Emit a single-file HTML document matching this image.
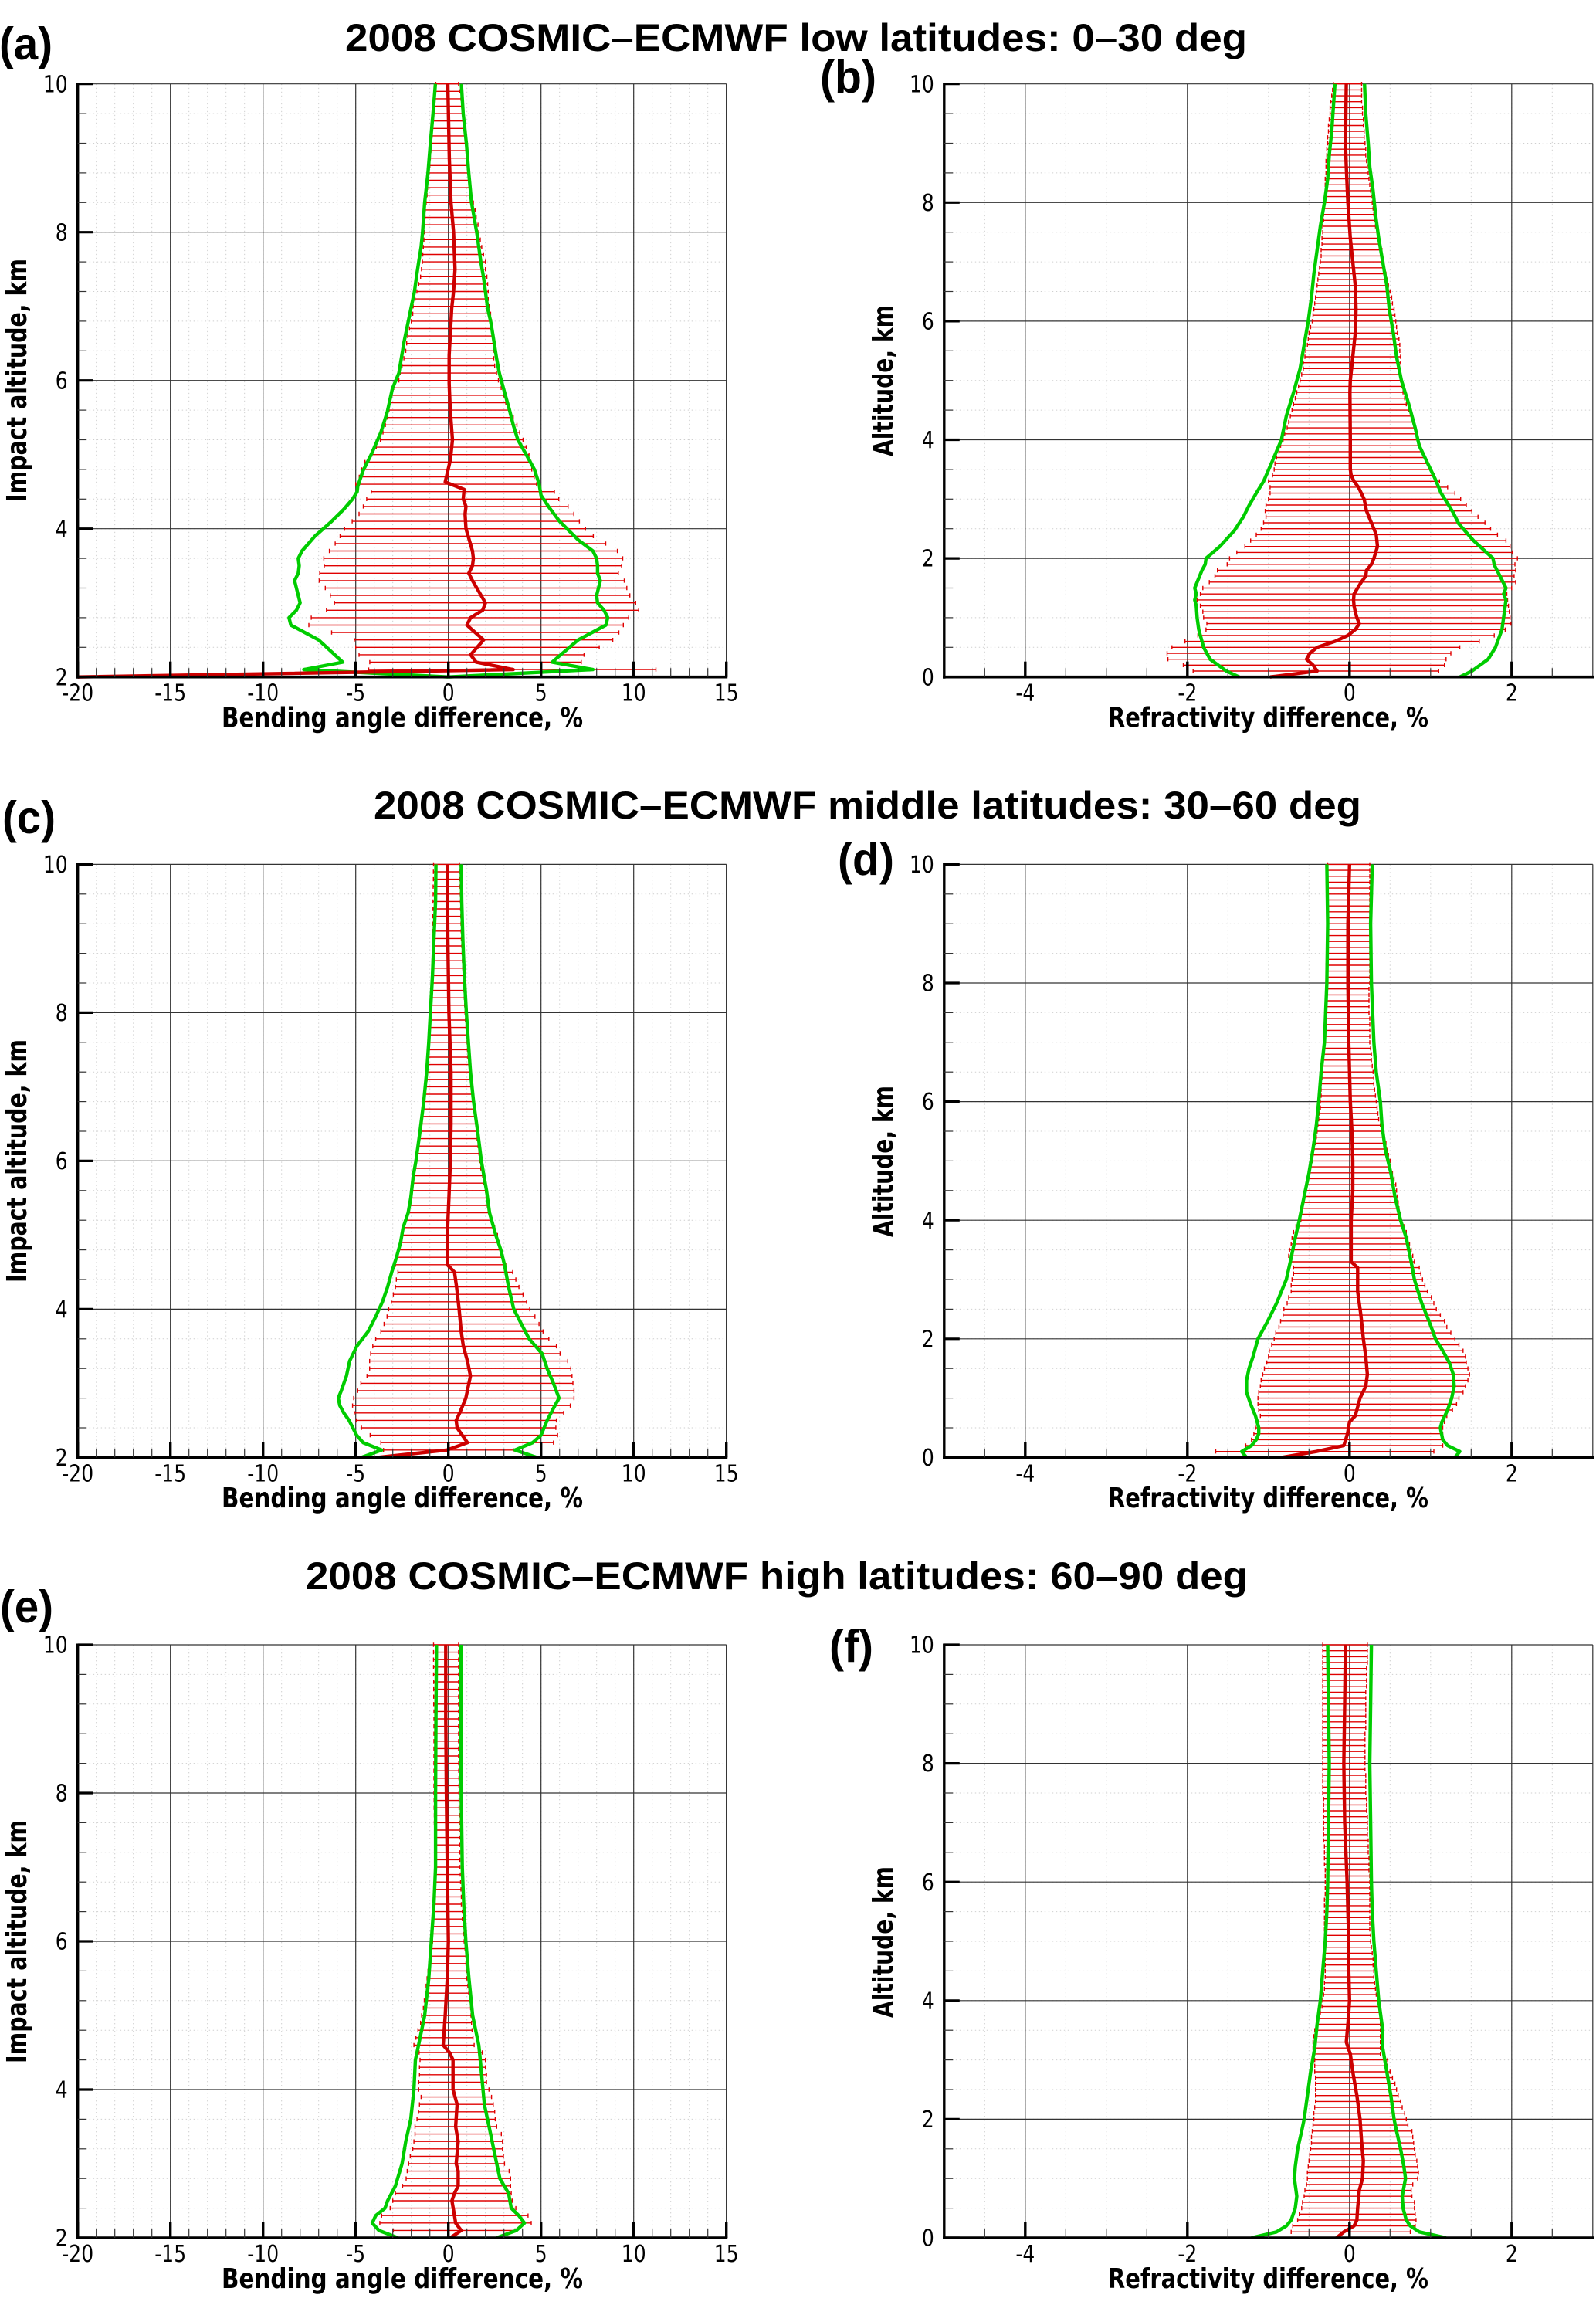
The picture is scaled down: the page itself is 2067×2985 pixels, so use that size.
<!DOCTYPE html>
<html lang="en">
<head>
<meta charset="utf-8">
<title>2008 COSMIC–ECMWF differences</title>
<style>
html,body{margin:0;padding:0;background:#fff;}
svg{display:block;}
.title{font-family:"Liberation Sans",sans-serif;font-weight:700;font-size:50px;fill:#000;}
.letter{font-family:"Liberation Sans",sans-serif;font-weight:700;font-size:59px;fill:#000;}
.axt{font-family:"DejaVu Sans",sans-serif;font-weight:700;font-size:36px;fill:#000;}
.tick{font-family:"DejaVu Sans",sans-serif;font-size:30.5px;fill:#000;}
</style>
</head>
<body>
<svg id="chart" xmlns="http://www.w3.org/2000/svg" width="2067" height="2985" viewBox="0 0 2067 2985">
<rect width="2067" height="2985" fill="#fff"/>
<text class="title" x="447" y="66" textLength="1168" lengthAdjust="spacingAndGlyphs">2008 COSMIC–ECMWF low latitudes: 0–30 deg</text>
<text class="title" x="484" y="1060" textLength="1279" lengthAdjust="spacingAndGlyphs">2008 COSMIC–ECMWF middle latitudes: 30–60 deg</text>
<text class="title" x="396" y="2058" textLength="1220" lengthAdjust="spacingAndGlyphs">2008 COSMIC–ECMWF high latitudes: 60–90 deg</text>
<text class="letter" x="-1" y="77" textLength="69" lengthAdjust="spacingAndGlyphs">(a)</text>
<text class="letter" x="1062" y="120" textLength="73" lengthAdjust="spacingAndGlyphs">(b)</text>
<text class="letter" x="3" y="1079" textLength="69" lengthAdjust="spacingAndGlyphs">(c)</text>
<text class="letter" x="1085" y="1133" textLength="73" lengthAdjust="spacingAndGlyphs">(d)</text>
<text class="letter" x="0" y="2101" textLength="69" lengthAdjust="spacingAndGlyphs">(e)</text>
<text class="letter" x="1074" y="2152" textLength="57" lengthAdjust="spacingAndGlyphs">(f)</text>
<text class="axt" x="287" y="941.5" textLength="468" lengthAdjust="spacingAndGlyphs">Bending angle difference, %</text>
<text class="axt" x="1435" y="941.5" textLength="415" lengthAdjust="spacingAndGlyphs">Refractivity difference, %</text>
<text class="axt" x="287" y="1952" textLength="468" lengthAdjust="spacingAndGlyphs">Bending angle difference, %</text>
<text class="axt" x="1435" y="1952" textLength="415" lengthAdjust="spacingAndGlyphs">Refractivity difference, %</text>
<text class="axt" x="287" y="2963" textLength="468" lengthAdjust="spacingAndGlyphs">Bending angle difference, %</text>
<text class="axt" x="1435" y="2963" textLength="415" lengthAdjust="spacingAndGlyphs">Refractivity difference, %</text>
<text class="axt" transform="translate(34,650) rotate(-90)" textLength="315" lengthAdjust="spacingAndGlyphs">Impact altitude, km</text>
<text class="axt" transform="translate(1156,591) rotate(-90)" textLength="196" lengthAdjust="spacingAndGlyphs">Altitude, km</text>
<text class="axt" transform="translate(34,1661) rotate(-90)" textLength="315" lengthAdjust="spacingAndGlyphs">Impact altitude, km</text>
<text class="axt" transform="translate(1156,1602) rotate(-90)" textLength="196" lengthAdjust="spacingAndGlyphs">Altitude, km</text>
<text class="axt" transform="translate(34,2672) rotate(-90)" textLength="315" lengthAdjust="spacingAndGlyphs">Impact altitude, km</text>
<text class="axt" transform="translate(1156,2613) rotate(-90)" textLength="196" lengthAdjust="spacingAndGlyphs">Altitude, km</text>
</svg>
<script>
// Tick labels
const bendingXTicks = [-20,-15,-10,-5,0,5,10,15];
const refractivityXTicks = [-4,-2,0,2];
const bendingYTicks = [2,4,6,8,10];
const refractivityYTicks = [0,2,4,6,8,10];

// Panel (a): bars start at 2.1 km, one every 0.1 km
const aBarLow = [-4.3,-4.24,-4.82,-5.0,-5.08,-6.3,-7.53,-7.4,-6.58,
-6.15,-6.37,-6.64,-6.97,-6.94,-6.7,-6.72,-6.42,-6.11,-5.84,
-5.6,-5.19,-4.82,-4.59,-4.41,-4.16,-5.0,-4.81,-4.67,-4.5,
-4.13,-3.89,-3.67,-3.53,-3.4,-3.3,-3.2,-3.1,-3.05,-2.95,
-2.67,-2.6,-2.5,-2.4,-2.3,-2.25,-2.2,-2.1,-2.0,-1.92,
-1.9,-1.8,-1.7,-1.6,-1.5,-1.45,-1.4,-1.38,-1.35,-1.32,
-1.3,-1.28,-1.26,-1.25,-1.2,-1.15,-1.12,-1.08,-1.04,-1.0,
-.97,-.94,-.9,-.88,-.85,-.82,-.79,-.76,-.73,-.71,-.68];
const aBarHigh = [11.2,7.17,7.32,8.14,8.87,9.2,9.44,9.73,10.27,
10.11,9.79,9.63,9.49,9.17,9.35,9.41,9.12,8.49,7.82,
7.4,7.07,6.77,6.46,5.96,5.72,4.76,4.63,4.5,4.45,
4.35,4.2,4.03,3.85,3.7,3.5,3.25,3.1,3.0,2.85,
2.7,2.6,2.5,2.45,2.42,2.42,2.4,2.37,2.33,2.28,
2.2,2.15,2.15,2.12,2.08,2.0,2.0,1.9,1.8,1.72,
1.65,1.6,1.5,1.44,1.35,1.25,1.2,1.15,1.1,1.05,
1.0,.96,.92,.88,.84,.8,.76,.72,.68,.62,.55];
const aMeanAlt = [2,2.1,2.2,2.3,2.5,2.7,2.8,2.9,3,3.3,3.4,3.5,3.6,3.7,4,4.2,4.3,4.4,4.53,4.63,4.93,5.2,5.6,5.96,6.34,6.97,7.2,7.5,8,8.4,9,10];
const aMean = [-20,3.5,1.5,1.2,1.9,1,1.2,1.85,2,1.3,1.1,1.3,1.35,1.3,.95,.9,.95,.8,.85,-.17,.11,.22,.1,.04,.04,.18,.28,.36,.28,.14,.05,-.03];
const aGreenLowAlt = [2,2.1,2.2,2.5,2.7,2.8,2.9,3,3.1,3.3,3.4,3.5,3.6,3.7,3.9,4.1,4.26,4.4,4.5,4.57,4.78,5.02,5.3,5.58,5.89,6.1,6.52,6.97,7.2,7.4,7.6,7.8,8,8.4,8.8,9.2,9.6,10];
const aGreenLow = [0,-7.8,-5.7,-7,-8.5,-8.6,-8.2,-8,-8.1,-8.3,-8.1,-8.05,-8.1,-7.9,-7.2,-6.3,-5.65,-5.17,-4.92,-4.89,-4.61,-4.13,-3.64,-3.29,-3.02,-2.67,-2.39,-2.02,-1.83,-1.72,-1.6,-1.47,-1.39,-1.28,-1.1,-.97,-.83,-.7];
const aGreenHighAlt = [2,2.1,2.2,2.5,2.7,2.8,2.9,3,3.1,3.3,3.4,3.5,3.6,3.7,3.85,4.1,4.3,4.45,4.6,4.8,5,5.2,5.4,5.6,5.85,6.1,6.3,6.62,6.8,6.97,7.2,7.4,7.6,7.8,8,8.4,8.8,9.2,9.6,10];
const aGreenHigh = [0,7.8,5.6,7,8.5,8.6,8.4,8.05,8,8.2,8.05,8.05,8,7.8,7,6,5.4,5,4.9,4.64,4.2,3.75,3.5,3.3,3.02,2.75,2.6,2.4,2.28,2.12,2,1.89,1.75,1.64,1.53,1.25,1.1,.97,.8,.7];

// Panel (b): bars start at 0.1 km, one every 0.1 km
const bBarLow = [-1.93,-2.05,-2.24,-2.25,-2.19,-2.03,-1.87,-1.77,-1.76,
-1.8,-1.81,-1.84,-1.88,-1.84,-1.81,-1.73,-1.66,-1.63,-1.51,
-1.48,-1.39,-1.29,-1.22,-1.15,-1.09,-1.06,-1.03,-1.04,-1.03,
-1,-.98,-.98,-1,-.95,-.93,-.92,-.9,-.87,-.85,
-.82,-.8,-.77,-.75,-.73,-.71,-.69,-.67,-.65,-.63,
-.61,-.59,-.57,-.57,-.55,-.54,-.52,-.51,-.5,-.48,
-.46,-.45,-.44,-.43,-.42,-.41,-.4,-.39,-.38,-.37,
-.36,-.35,-.35,-.34,-.34,-.33,-.33,-.32,-.32,-.32,
-.31,-.31,-.3,-.3,-.3,-.29,-.29,-.29,-.28,-.28,
-.27,-.27,-.26,-.26,-.25,-.24,-.24,-.23,-.22,-.21,-.2];
const bBarHigh = [1.1,1.17,1.19,1.25,1.36,1.6,1.785,1.92,1.99,
1.98,1.97,1.96,1.95,1.94,2,2.05,2.03,2.05,2.04,
2.07,2.01,1.98,1.93,1.825,1.74,1.67,1.585,1.51,1.44,
1.37,1.3,1.21,1.11,1.05,1,.96,.93,.9,.87,
.84,.82,.8,.78,.76,.73,.7,.68,.66,.64,
.63,.62,.62,.63,.63,.62,.62,.61,.59,.58,
.57,.56,.55,.53,.52,.5,.48,.47,.45,.43,
.42,.4,.4,.38,.36,.34,.32,.31,.3,.29,
.28,.27,.26,.25,.24,.23,.22,.21,.2,.2,
.19,.18,.18,.17,.17,.16,.16,.15,.15,.15,.15];
const bMeanAlt = [0,.1,.2,.3,.4,.5,.6,.7,.8,.9,1,1.1,1.2,1.3,1.4,1.5,1.6,1.7,1.8,1.9,2,2.2,2.4,2.6,2.8,3,3.2,3.3,3.4,3.5,4,4.8,5,5.4,5.8,6.2,6.6,7,7.4,8,8.6,9,10];
const bMean = [-.98,-.4,-.45,-.53,-.49,-.4,-.18,-.02,.07,.12,.09,.07,.055,.05,.055,.1,.145,.2,.21,.27,.3,.345,.33,.27,.21,.18,.11,.055,.02,.01,.01,.005,.01,.04,.07,.08,.07,.04,.01,-.02,-.04,-.05,-.04];
const bGreenLowAlt = [0,.1,.3,.5,.6,.8,1,1.2,1.3,1.4,1.5,1.8,1.9,2,2.2,2.47,2.7,2.89,3.1,3.3,3.6,4,4.4,4.8,5.2,5.6,6,6.4,6.8,7.2,7.6,8,8.4,8.8,9.2,9.6,10];
const bGreenLow = [-1.36,-1.52,-1.72,-1.8,-1.82,-1.86,-1.88,-1.89,-1.91,-1.89,-1.91,-1.82,-1.78,-1.77,-1.6,-1.42,-1.31,-1.24,-1.15,-1.06,-.965,-.84,-.78,-.69,-.61,-.56,-.51,-.47,-.44,-.4,-.36,-.31,-.27,-.25,-.22,-.2,-.18];
const bGreenHighAlt = [0,.1,.3,.5,.8,1,1.3,1.4,1.5,1.69,1.89,2,2.3,2.58,2.78,3.1,3.34,3.6,3.9,4.2,4.6,5,5.4,5.8,6.2,6.6,7,7.4,7.8,8.2,8.6,9,9.5,10];
const bGreenHigh = [1.36,1.51,1.71,1.8,1.88,1.9,1.93,1.9,1.93,1.86,1.785,1.77,1.53,1.35,1.275,1.13,1.056,.965,.86,.81,.73,.64,.58,.54,.49,.46,.41,.36,.32,.29,.25,.23,.2,.185];

// Panel (c): bars start at 2.1 km
const cBarLow = [-3.5,-3.64,-4.22,-4.69,-4.97,-5.08,-5.17,-5.11,-4.89,
-4.72,-4.39,-4.25,-4.25,-4.19,-4.08,-3.92,-3.64,-3.47,-3.31,
-3.22,-3.08,-2.97,-2.86,-2.81,-2.72,-2.85,-2.8,-2.7,-2.6,
-2.5,-2.4,-2.3,-2.2,-2.1,-2,-1.95,-1.9,-1.85,-1.8,
-1.75,-1.7,-1.65,-1.6,-1.5,-1.45,-1.4,-1.35,-1.3,-1.25,
-1.2,-1.15,-1.15,-1.1,-1.1,-1.08,-1.05,-1.02,-1,-.97,
-.95,-.94,-.93,-.92,-.91,-.9,-.89,-.88,-.87,-.86,
-.85,-.85,-.84,-.84,-.83,-.83,-.82,-.82,-.81,-.81,-.8];
const cBarHigh = [3.5,5.67,5.89,5.8,5.83,6.22,6.58,6.78,6.78,
6.72,6.67,6.61,6.44,6.03,5.83,5.42,5.11,4.89,4.67,
4.39,4.22,4.03,3.81,3.64,3.47,3.1,2.95,2.85,2.75,
2.65,2.5,2.35,2.2,2.1,2.05,2,1.9,1.85,1.75,
1.7,1.65,1.6,1.55,1.58,1.55,1.45,1.4,1.35,1.3,
1.25,1.2,1.15,1.1,1.05,1.03,1.01,.98,.95,.92,
.9,.88,.86,.84,.82,.8,.78,.76,.74,.72,
.7,.69,.68,.67,.66,.65,.64,.63,.62,.61,.6];
const cMeanAlt = [2,2.1,2.2,2.3,2.4,2.5,2.6,2.8,3,3.1,3.3,3.5,3.7,4,4.3,4.5,4.6,5,5.5,6,6.5,7.2,8,9,10];
const cMean = [-3.83,-.08,1.03,.75,.47,.42,.61,.94,1.11,1.19,1.03,.81,.69,.58,.44,.33,-.06,-.06,.03,.11,.14,.14,.03,-.03,-.06];
const cGreenLowAlt = [2,2.1,2.2,2.3,2.5,2.6,2.7,2.8,2.9,3.1,3.3,3.5,3.7,3.9,4.1,4.3,4.5,4.7,4.9,5.1,5.3,5.5,5.8,6,6.4,6.8,7.2,7.6,8,8.5,9,9.5,10];
const cGreenLow = [-4.7,-3.6,-4.6,-4.95,-5.36,-5.64,-5.86,-5.94,-5.78,-5.5,-5.33,-4.94,-4.33,-3.92,-3.56,-3.28,-3.06,-2.8,-2.58,-2.44,-2.17,-2.03,-1.89,-1.75,-1.53,-1.33,-1.17,-1.06,-.97,-.86,-.78,-.69,-.67];
const cGreenHighAlt = [2,2.1,2.2,2.3,2.5,2.7,2.8,3,3.2,3.4,3.6,3.8,4,4.3,4.6,4.8,5,5.3,5.6,6,6.4,6.8,7.2,7.6,8,8.5,9,9.5,10];
const cGreenHigh = [4.78,3.6,4.55,5,5.33,5.75,5.97,5.67,5.33,5.06,4.36,3.94,3.53,3.25,3.03,2.83,2.56,2.22,2.06,1.78,1.58,1.36,1.19,1.08,.97,.86,.78,.72,.69];

// Panel (d): bars start at 0.1 km
const dBarLow = [-1.65,-1.28,-1.21,-1.18,-1.16,-1.12,-1.1,-1.12,-1.13,
-1.13,-1.12,-1.1,-1.09,-1.07,-1.05,-1.02,-1,-.99,-.96,
-.93,-.91,-.87,-.85,-.82,-.81,-.77,-.75,-.72,-.72,
-.71,-.69,-.69,-.73,-.75,-.74,-.72,-.71,-.69,-.66,
-.6,-.6,-.58,-.57,-.56,-.55,-.53,-.51,-.5,-.48,
-.46,-.45,-.44,-.42,-.41,-.4,-.39,-.38,-.37,-.36,
-.36,-.35,-.35,-.35,-.34,-.34,-.33,-.33,-.32,-.32,
-.31,-.31,-.31,-.3,-.3,-.3,-.3,-.3,-.29,-.29,
-.29,-.29,-.29,-.29,-.28,-.28,-.28,-.28,-.28,-.28,
-.28,-.28,-.28,-.27,-.27,-.27,-.27,-.27,-.27,-.27,-.27];
const dBarHigh = [1.04,1.15,1.15,1.15,1.15,1.17,1.2,1.27,1.32,
1.35,1.4,1.43,1.46,1.48,1.46,1.44,1.43,1.4,1.35,
1.3,1.25,1.2,1.17,1.12,1.07,1.04,1.01,.96,.93,
.9,.88,.86,.8,.78,.76,.74,.72,.7,.67,
.64,.63,.61,.6,.59,.58,.57,.55,.53,.51,
.5,.48,.47,.45,.42,.4,.38,.36,.35,.34,
.33,.32,.31,.3,.3,.29,.28,.27,.27,.26,
.25,.25,.25,.25,.25,.24,.24,.24,.24,.24,
.25,.25,.25,.25,.25,.25,.25,.25,.25,.25,
.25,.25,.25,.25,.25,.25,.25,.25,.25,.25,.25];
const dMeanAlt = [0,.1,.2,.4,.6,.7,1,1.2,1.4,1.7,2,2.4,2.8,3.1,3.2,3.3,3.6,4,4.5,5,5.5,6,7,8,9,10];
const dMean = [-.84,-.41,-.07,-.025,0,.07,.13,.2,.22,.2,.17,.14,.1,.1,.1,.02,.02,.02,.04,.04,.03,.01,-.01,-.02,-.02,0];
const dGreenLowAlt = [0,.1,.2,.3,.4,.5,.7,.9,1.1,1.3,1.5,1.7,2,2.3,2.6,3,3.3,3.7,4,4.4,4.8,5.2,5.6,6,6.5,7,8,9,10];
const dGreenLow = [-1.27,-1.33,-1.21,-1.15,-1.12,-1.12,-1.16,-1.22,-1.27,-1.27,-1.24,-1.19,-1.13,-1.01,-.9,-.78,-.73,-.67,-.62,-.56,-.5,-.45,-.41,-.38,-.35,-.31,-.28,-.27,-.28];
const dGreenHighAlt = [0,.1,.2,.3,.5,.6,.8,1,1.2,1.4,1.6,1.8,2,2.3,2.6,3,3.3,3.7,4,4.4,4.8,5.2,5.6,6,6.5,7,8,9,10];
const dGreenHigh = [1.3,1.36,1.21,1.15,1.12,1.14,1.21,1.26,1.29,1.28,1.23,1.15,1.06,.98,.89,.8,.76,.7,.63,.56,.51,.44,.4,.38,.33,.3,.27,.26,.28];

// Panel (e): bars start at 2.1 km
const eBarLow = [-2.97,-3.7,-3.6,-3.14,-3,-2.86,-2.47,-2.28,-2.22,
-2.14,-2.06,-1.92,-1.86,-1.8,-1.8,-1.69,-1.61,-1.56,-1.47,
-1.6,-1.6,-1.56,-1.56,-1.53,-1.58,-1.86,-1.75,-1.64,-1.5,
-1.44,-1.35,-1.3,-1.25,-1.2,-1.15,-1.1,-1.05,-.95,-.9,
-.85,-.85,-.85,-.8,-.8,-.8,-.78,-.78,-.77,-.76,
-.75,-.75,-.75,-.75,-.75,-.75,-.76,-.76,-.77,-.77,
-.78,-.78,-.78,-.78,-.78,-.78,-.78,-.78,-.78,-.78,
-.78,-.78,-.79,-.79,-.79,-.79,-.8,-.8,-.8,-.8,-.8];
const eBarHigh = [3.6,4.47,4.3,3.64,3.44,3.39,3.36,3.36,3.28,
3.03,2.97,2.92,2.92,2.86,2.61,2.53,2.5,2.42,2.33,
2.19,2.06,2.06,2,2,1.83,1.39,1.33,1.28,1.25,
1.22,1.2,1.15,1.1,1.05,1,1,.95,.95,.9,
.85,.8,.8,.75,.75,.7,.7,.68,.66,.64,
.62,.62,.62,.61,.61,.6,.6,.59,.58,.58,
.57,.57,.57,.56,.56,.55,.55,.55,.55,.55,
.55,.55,.55,.55,.55,.55,.55,.55,.55,.55,.55];
const eMeanAlt = [2,2.1,2.2,2.3,2.5,2.6,2.7,2.9,3,3.3,3.5,3.8,4,4.4,4.5,4.6,5,5.5,6,7,8,9,10];
const eMean = [.11,.69,.39,.33,.19,.33,.53,.53,.42,.53,.39,.47,.25,.25,.06,-.28,-.17,-.06,0,-.06,-.11,-.14,-.14];
const eGreenLowAlt = [2,2.1,2.2,2.3,2.4,2.5,2.7,3,3.3,3.6,4,4.4,4.6,5,5.5,6,6.5,7,8,9,10];
const eGreenLow = [-2.72,-3.75,-4.11,-3.92,-3.42,-3.28,-2.86,-2.5,-2.3,-2.03,-1.86,-1.78,-1.61,-1.28,-1.06,-.92,-.78,-.69,-.69,-.67,-.64];
const eGreenHighAlt = [2,2.1,2.2,2.3,2.4,2.6,2.8,3,3.4,3.8,4.4,4.6,5,5.5,6,6.5,7,8,9,10];
const eGreenHigh = [2.6,3.67,4.11,3.8,3.39,3.25,2.78,2.61,2.28,1.94,1.72,1.64,1.31,1.11,.94,.83,.75,.69,.67,.67];

// Panel (f): bars start at 0.1 km
const fBarLow = [-.72,-.7,-.64,-.62,-.59,-.58,-.56,-.55,-.53,
-.52,-.52,-.51,-.5,-.49,-.48,-.47,-.47,-.46,-.45,
-.44,-.44,-.43,-.42,-.42,-.42,-.42,-.42,-.43,-.43,
-.43,-.43,-.45,-.45,-.44,-.43,-.4,-.38,-.36,-.34,
-.33,-.32,-.31,-.31,-.3,-.3,-.3,-.3,-.3,-.3,
-.3,-.31,-.31,-.31,-.31,-.31,-.31,-.31,-.3,-.3,
-.3,-.3,-.3,-.31,-.31,-.31,-.31,-.32,-.32,-.32,
-.32,-.32,-.32,-.32,-.32,-.33,-.33,-.33,-.33,-.33,
-.33,-.33,-.33,-.33,-.33,-.33,-.33,-.33,-.33,-.33,
-.33,-.33,-.33,-.33,-.33,-.33,-.33,-.33,-.33,-.33,-.33];
const fBarHigh = [.75,.81,.82,.81,.8,.8,.77,.76,.78,
.84,.85,.84,.83,.81,.8,.79,.78,.77,.72,
.7,.68,.65,.63,.6,.58,.56,.53,.5,.47,
.47,.38,.38,.38,.38,.38,.38,.38,.37,.37,
.35,.33,.32,.31,.3,.3,.29,.29,.28,.27,
.26,.26,.25,.25,.25,.25,.25,.25,.25,.25,
.25,.25,.24,.24,.24,.23,.23,.23,.22,.22,
.22,.22,.21,.21,.21,.2,.2,.2,.2,.19,
.19,.19,.19,.19,.19,.19,.2,.2,.2,.2,
.2,.2,.2,.21,.21,.21,.21,.22,.22,.22,.22];
const fMeanAlt = [0,.1,.2,.3,.5,.8,1,1.3,1.6,2,2.4,2.8,3.1,3.3,3.6,4,4.5,5,5.5,6,7,8,9,10];
const fMean = [-.16,-.07,.055,.09,.1,.12,.16,.17,.15,.13,.09,.04,.01,-.04,-.02,0,-.01,-.01,-.02,-.03,-.06,-.07,-.06,-.05];
const fGreenLowAlt = [0,.1,.2,.3,.5,.7,1,1.2,1.5,1.8,2,2.4,2.8,3.2,3.6,4,4.5,5,5.5,6,7,8,9,10];
const fGreenLow = [-1.21,-.9,-.78,-.72,-.67,-.65,-.68,-.67,-.64,-.59,-.56,-.52,-.48,-.43,-.4,-.36,-.33,-.3,-.28,-.27,-.26,-.25,-.26,-.27];
const fGreenHighAlt = [0,.1,.2,.3,.5,.7,1,1.2,1.5,1.8,2,2.4,2.8,3.2,3.6,4,4.5,5,5.5,6,7,8,9,10];
const fGreenHigh = [1.19,.86,.75,.7,.66,.65,.69,.67,.63,.58,.55,.51,.46,.41,.4,.36,.33,.3,.28,.27,.26,.25,.26,.27];

const NS = 'http://www.w3.org/2000/svg';
const root = document.getElementById('chart');
const PW = 840, PH = 768;
const panels = [
 {id:'a',kind:'b',left:100.7,top:108.7,barLow:aBarLow,barHigh:aBarHigh,meanAlt:aMeanAlt,mean:aMean,gla:aGreenLowAlt,gl:aGreenLow,gha:aGreenHighAlt,gh:aGreenHigh},
 {id:'b',kind:'r',left:1222.8,top:108.7,barLow:bBarLow,barHigh:bBarHigh,meanAlt:bMeanAlt,mean:bMean,gla:bGreenLowAlt,gl:bGreenLow,gha:bGreenHighAlt,gh:bGreenHigh},
 {id:'c',kind:'b',left:100.7,top:1119.4,barLow:cBarLow,barHigh:cBarHigh,meanAlt:cMeanAlt,mean:cMean,gla:cGreenLowAlt,gl:cGreenLow,gha:cGreenHighAlt,gh:cGreenHigh},
 {id:'d',kind:'r',left:1222.8,top:1119.4,barLow:dBarLow,barHigh:dBarHigh,meanAlt:dMeanAlt,mean:dMean,gla:dGreenLowAlt,gl:dGreenLow,gha:dGreenHighAlt,gh:dGreenHigh},
 {id:'e',kind:'b',left:100.7,top:2130,barLow:eBarLow,barHigh:eBarHigh,meanAlt:eMeanAlt,mean:eMean,gla:eGreenLowAlt,gl:eGreenLow,gha:eGreenHighAlt,gh:eGreenHigh},
 {id:'f',kind:'r',left:1222.8,top:2130,barLow:fBarLow,barHigh:fBarHigh,meanAlt:fMeanAlt,mean:fMean,gla:fGreenLowAlt,gl:fGreenLow,gha:fGreenHighAlt,gh:fGreenHigh}
];

function mk(parent, tag, attrs) {
  const el = document.createElementNS(NS, tag);
  for (const k in attrs) el.setAttribute(k, attrs[k]);
  parent.appendChild(el);
  return el;
}
function tickWidth(s) {
  let w = 0;
  for (const c of s) w += (c === '-' ? 0.361 : 0.636);
  return w * 30.5 * 0.82;
}
function polyPoints(alts, vals, sx, sy) {
  return vals.map((v, i) => sx(v).toFixed(1) + ',' + sy(alts[i]).toFixed(1)).join(' ');
}

panels.forEach(p => {
  const isB = p.kind === 'b';
  const xMin = isB ? -20 : -5, xMax = isB ? 15 : 3;
  const yMin = isB ? 2 : 0, yMax = 10;
  const xMinorStep = isB ? 1 : 0.5;
  const yMinorStep = isB ? 0.4 : 0.5;
  const sx = v => p.left + (v - xMin) * PW / (xMax - xMin);
  const sy = a => p.top + PH - (a - yMin) * PH / (yMax - yMin);
  const bottom = p.top + PH, right = p.left + PW;
  const xTicks = isB ? bendingXTicks : refractivityXTicks;
  const yTicks = isB ? bendingYTicks : refractivityYTicks;

  const g = mk(root, 'g', {});
  
  

  // minor dotted grid
  const minorGrid = mk(g, 'g', {stroke:'#cfcfcf','stroke-width':1,'stroke-dasharray':'1.4 3.6',fill:'none'});
  
  
  const nx = Math.round((xMax - xMin) / xMinorStep);
  for (let i = 1; i < nx; i++) {
    const v = xMin + i * xMinorStep;
    mk(minorGrid, 'line', {x1:sx(v),x2:sx(v),y1:p.top,y2:bottom});
  }
  const ny = Math.round((yMax - yMin) / yMinorStep);
  for (let i = 1; i < ny; i++) {
    const a = yMin + i * yMinorStep;
    mk(minorGrid, 'line', {x1:p.left,x2:right,y1:sy(a),y2:sy(a)});
  }

  // major grid
  const majorGrid = mk(g, 'g', {stroke:'#333','stroke-width':1.2});
  
  
  xTicks.forEach(v => { mk(majorGrid, 'line', {x1:sx(v),x2:sx(v),y1:p.top,y2:bottom}); });
  yTicks.forEach(a => { mk(majorGrid, 'line', {x1:p.left,x2:right,y1:sy(a),y2:sy(a)}); });
  mk(majorGrid, 'line', {x1:right,x2:right,y1:p.top,y2:bottom});

  // error bars
  const barStart = yMin + 0.1;
  const bars = mk(g, 'g', {stroke:'#e00000','stroke-width':1.4,fill:'none'});
  
  
  p.barLow.forEach((lo, i) => {
    const a = barStart + i * 0.1;
    const y = sy(a), x0 = sx(lo), x1 = sx(p.barHigh[i]);
    const bar = mk(bars, 'path', {d:'M'+x0.toFixed(1)+' '+y.toFixed(1)+'H'+x1.toFixed(1)+'M'+x0.toFixed(1)+' '+(y-2.7).toFixed(1)+'V'+(y+2.7).toFixed(1)+'M'+x1.toFixed(1)+' '+(y-2.7).toFixed(1)+'V'+(y+2.7).toFixed(1)});
    
    
  });

  // green curves
  const gl = mk(g, 'polyline', {points:polyPoints(p.gla, p.gl, sx, sy),fill:'none',stroke:'#00cc00','stroke-width':4.4,'stroke-linejoin':'round'});
  
  
  const gh = mk(g, 'polyline', {points:polyPoints(p.gha, p.gh, sx, sy),fill:'none',stroke:'#00cc00','stroke-width':4.4,'stroke-linejoin':'round'});
  
  

  // mean curve
  const mean = mk(g, 'polyline', {points:polyPoints(p.meanAlt, p.mean, sx, sy),fill:'none',stroke:'#cc0000','stroke-width':4.4,'stroke-linejoin':'round'});
  
  

  // axes and ticks
  const axes = mk(g, 'g', {stroke:'#000'});
  
  
  mk(axes, 'line', {x1:p.left,x2:p.left,y1:p.top-1.5,y2:bottom+2,'stroke-width':3.4});
  mk(axes, 'line', {x1:p.left-1.7,x2:right+1.5,y1:bottom,y2:bottom,'stroke-width':3.6});
  for (let i = 1; i < nx; i++) {
    const v = xMin + i * xMinorStep;
    mk(axes, 'line', {x1:sx(v),x2:sx(v),y1:bottom,y2:bottom-11.5,'stroke-width':1.2,stroke:'#333'});
  }
  for (let i = 1; i < ny; i++) {
    const a = yMin + i * yMinorStep;
    mk(axes, 'line', {x1:p.left,x2:p.left+11.5,y1:sy(a),y2:sy(a),'stroke-width':1.2,stroke:'#333'});
  }
  xTicks.forEach(v => { mk(axes, 'line', {x1:sx(v),x2:sx(v),y1:bottom,y2:bottom-20,'stroke-width':3.4}); });
  yTicks.forEach(a => { mk(axes, 'line', {x1:p.left,x2:p.left+20,y1:sy(a),y2:sy(a),'stroke-width':3.2}); });

  // tick labels
  xTicks.forEach(v => {
    const s = String(v);
    const t = mk(g, 'text', {class:'tick',x:sx(v).toFixed(1),y:(bottom+31).toFixed(1),'text-anchor':'middle',textLength:tickWidth(s).toFixed(1),lengthAdjust:'spacingAndGlyphs'});
    
    
    t.textContent = s;
  });
  yTicks.forEach(a => {
    const s = String(a);
    const t = mk(g, 'text', {class:'tick',x:(p.left-13).toFixed(1),y:(sy(a)+10.6).toFixed(1),'text-anchor':'end',textLength:tickWidth(s).toFixed(1),lengthAdjust:'spacingAndGlyphs'});
    
    
    t.textContent = s;
  });
});
</script>
</body>
</html>
